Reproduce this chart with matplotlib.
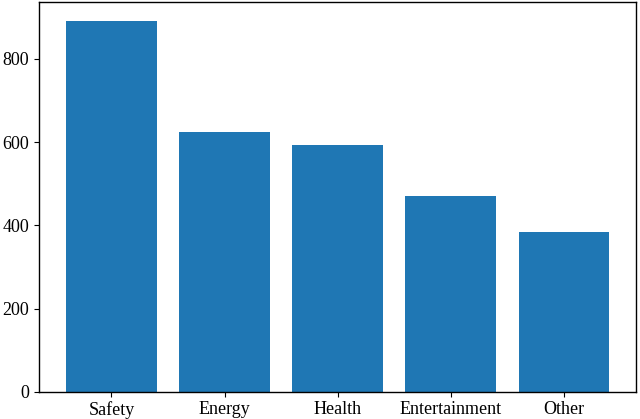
import matplotlib
matplotlib.use('Agg')
import matplotlib.pyplot as plt

categories = ['Safety', 'Energy', 'Health', 'Entertainment', 'Other']
counts = [892, 625, 593, 471, 384]

plt.rcParams['font.family'] = 'Liberation Serif'
plt.rcParams['font.size'] = 13

fig, ax = plt.subplots(figsize=(6.4, 4.19), dpi=100)
ax.bar(categories, counts, color='#1f77b4')
for sp in ax.spines.values():
    sp.set_linewidth(1.0)
fig.subplots_adjust(left=0.061, right=0.994, bottom=0.065, top=0.995)

fig.savefig('out.png', dpi=100)
